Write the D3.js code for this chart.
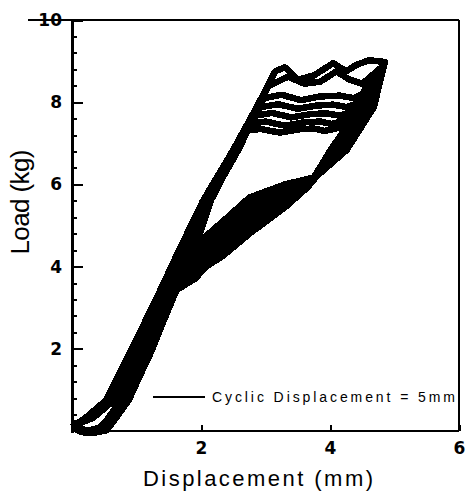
<!DOCTYPE html>
<html>
<head>
<meta charset="utf-8">
<script src="https://cdn.jsdelivr.net/npm/d3@7"></script>
<style>
  body { margin: 0; background: #fff; }
  svg { display: block; }
</style>
</head>
<body>
<div id="chart"></div>
<script>
const width = 468, height = 492;

// axis ticks
const xTicks = [2, 4, 6];
const yTicks = [2, 4, 6, 8, 10];

// load (kg) vs displacement (mm), one array per cycle
const cycle1 = [[0.00,0.10],[0.21,0.32],[0.53,0.75],[0.92,1.97],[1.37,3.43],[1.66,4.40],[2.03,5.60],[2.50,6.84],[2.87,7.90],[3.15,8.75],[3.30,8.85],[3.50,8.55],[3.75,8.65],[4.05,8.95],[4.25,8.75],[4.40,8.90],[4.60,9.02],[4.85,8.98],
  [4.68,7.88],[4.26,6.84],[3.78,6.18],[3.30,6.00],[2.75,5.68],[2.34,5.10],[2.06,4.72],[1.80,4.00],[1.50,3.43],[1.28,2.60],[1.12,1.97],[0.89,1.20],[0.76,0.75],[0.54,0.27],[0.42,0.08],[0.15,-0.03]];
const cycle2 = [[0.02,0.08],[0.23,0.32],[0.55,0.75],[0.94,1.97],[1.39,3.43],[1.70,4.40],[2.05,5.60],[2.52,6.84],[2.82,7.75],[3.05,8.40],[3.35,8.62],[3.60,8.45],[3.85,8.50],[4.10,8.75],[4.30,8.55],[4.50,8.45],[4.80,8.85],
  [4.64,7.88],[4.22,6.84],[3.76,6.14],[3.30,5.90],[2.75,5.53],[2.34,4.96],[2.06,4.60],[1.82,3.95],[1.52,3.43],[1.30,2.60],[1.14,1.97],[0.91,1.20],[0.78,0.75],[0.56,0.27],[0.44,0.08],[0.18,-0.03]];
const cycle3 = [[0.00,0.14],[0.25,0.32],[0.57,0.75],[0.96,1.97],[1.41,3.43],[1.74,4.40],[2.07,5.60],[2.54,6.84],[2.80,7.60],[2.98,8.10],[3.25,8.18],[3.55,8.05],[3.85,8.14],[4.15,8.16],[4.37,8.10],[4.50,8.20],[4.66,8.60],[4.78,8.80],
  [4.61,7.88],[4.18,6.84],[3.74,6.10],[3.30,5.80],[2.75,5.38],[2.34,4.82],[2.06,4.48],[1.84,3.90],[1.54,3.43],[1.32,2.60],[1.16,1.97],[0.93,1.20],[0.80,0.75],[0.58,0.27],[0.46,0.06],[0.20,-0.04]];
const cycle4 = [[0.03,0.10],[0.27,0.32],[0.59,0.75],[0.98,1.97],[1.43,3.43],[1.78,4.40],[2.09,5.60],[2.56,6.84],[2.76,7.45],[2.92,7.88],[3.20,7.95],[3.50,7.84],[3.80,7.92],[4.05,7.94],[4.26,7.88],[4.44,7.98],[4.62,8.45],[4.75,8.75],
  [4.57,7.88],[4.13,6.84],[3.72,6.06],[3.30,5.72],[2.75,5.24],[2.34,4.68],[2.06,4.35],[1.86,3.85],[1.56,3.43],[1.34,2.60],[1.18,1.97],[0.95,1.20],[0.82,0.75],[0.60,0.27],[0.48,0.05],[0.24,-0.04]];
const cycle5 = [[0.01,0.16],[0.29,0.32],[0.61,0.75],[1.00,1.97],[1.45,3.43],[1.82,4.40],[2.11,5.60],[2.58,6.84],[2.72,7.30],[2.84,7.67],[3.10,7.74],[3.40,7.63],[3.70,7.71],[3.95,7.73],[4.15,7.67],[4.36,7.78],[4.58,8.35],[4.72,8.70],
  [4.54,7.88],[4.09,6.84],[3.70,6.02],[3.30,5.63],[2.75,5.09],[2.34,4.54],[2.06,4.23],[1.88,3.80],[1.58,3.43],[1.36,2.60],[1.20,1.97],[0.97,1.20],[0.84,0.75],[0.62,0.27],[0.50,0.04],[0.27,-0.05]];
const cycle6 = [[0.04,0.12],[0.31,0.32],[0.63,0.75],[1.02,1.97],[1.47,3.43],[1.86,4.40],[2.13,5.60],[2.58,6.84],[2.68,7.20],[2.74,7.47],[3.00,7.53],[3.30,7.43],[3.60,7.51],[3.85,7.53],[4.03,7.47],[4.28,7.58],[4.54,8.25],[4.70,8.65],
  [4.50,7.88],[4.05,6.84],[3.68,5.98],[3.30,5.54],[2.75,4.95],[2.34,4.40],[2.06,4.10],[1.90,3.76],[1.60,3.43],[1.38,2.60],[1.22,1.97],[0.99,1.20],[0.86,0.75],[0.64,0.27],[0.52,0.03],[0.30,-0.05]];
const cycle7 = [[0.02,0.13],[0.33,0.32],[0.65,0.75],[1.04,1.97],[1.49,3.43],[1.90,4.40],[2.15,5.60],[2.56,6.84],[2.62,7.10],[2.67,7.30],[2.92,7.35],[3.22,7.26],[3.52,7.34],[3.75,7.36],[3.92,7.30],[4.20,7.40],[4.50,8.15],[4.68,8.60],
  [4.47,7.88],[4.01,6.84],[3.66,5.94],[3.30,5.44],[2.75,4.80],[2.34,4.26],[2.06,3.98],[1.92,3.72],[1.62,3.43],[1.40,2.60],[1.24,1.97],[1.01,1.20],[0.88,0.75],[0.66,0.27],[0.54,0.02],[0.32,-0.05]];
const cycles = [cycle1, cycle2, cycle3, cycle4, cycle5, cycle6, cycle7];

const legendLabel = "Cyclic Displacement = 5mm";

const x = d3.scaleLinear().domain([0, 6]).range([72, 459]);
const y = d3.scaleLinear().domain([0, 10]).range([431, 20]);

const svg = d3.select('#chart').append('svg')
              .attr('width', width)
              .attr('height', height)
              .attr('viewBox', [0, 0, width, height]);

// curves
const line = d3.line()
               .x(d => x(d[0]))
               .y(d => y(d[1]));

svg.append('g')
   .attr('fill', 'none')
   .attr('stroke', '#000')
   .attr('stroke-width', 6.5)
   .attr('stroke-linejoin', 'round')
   .attr('shape-rendering', 'crispEdges')
   .selectAll('path')
   .data(cycles)
   .join('path')
   .attr('d', d => line(d.concat([d[0]])));

// frame
const frame = svg.append('g').attr('stroke', '#000').attr('shape-rendering', 'crispEdges');
frame.append('line').attr('x1', 28).attr('x2', x(6)).attr('y1', y(10)).attr('y2', y(10)).attr('stroke-width', 2);
frame.append('line').attr('x1', x(6)).attr('x2', x(6)).attr('y1', y(10)).attr('y2', y(0)).attr('stroke-width', 2);
frame.append('line').attr('x1', x(0)).attr('x2', x(6)).attr('y1', y(0)).attr('y2', y(0)).attr('stroke-width', 2);
frame.append('line').attr('x1', x(0)).attr('x2', x(0)).attr('y1', y(10)).attr('y2', y(0) + 2).attr('stroke-width', 3);

const fmt = d3.format('d');

// y axis, ticks point inward
const yMinor = d3.range(0.4, 10, 0.4).filter(v => Math.abs(v / 2 - Math.round(v / 2)) > 0.01);
svg.append('g')
   .attr('transform', `translate(${x(0)},0)`)
   .call(d3.axisLeft(y).tickValues(yMinor).tickSize(-5).tickFormat(''))
   .call(g => g.select('.domain').remove())
   .call(g => g.selectAll('line').attr('stroke-width', 2).attr('shape-rendering', 'crispEdges'));

svg.append('g')
   .attr('transform', `translate(${x(0)},0)`)
   .call(d3.axisLeft(y).tickValues(yTicks).tickSize(-11).tickPadding(10).tickFormat(fmt))
   .call(g => g.select('.domain').remove())
   .call(g => g.selectAll('line').attr('stroke-width', 2).attr('shape-rendering', 'crispEdges'))
   .call(g => g.selectAll('text')
               .attr('font-family', 'DejaVu Sans')
               .attr('font-weight', 'bold')
               .attr('font-size', 17)
               .attr('fill', '#000'));

// x axis
svg.append('g')
   .attr('transform', `translate(0,${y(0)})`)
   .call(d3.axisBottom(x).tickValues(xTicks).tickSize(-6).tickPadding(11).tickFormat(fmt))
   .call(g => g.select('.domain').remove())
   .call(g => g.selectAll('line').attr('stroke-width', 2).attr('shape-rendering', 'crispEdges'))
   .call(g => g.selectAll('text')
               .attr('font-family', 'DejaVu Sans')
               .attr('font-weight', 'bold')
               .attr('font-size', 17)
               .attr('fill', '#000'));

// titles
svg.append('text')
   .attr('x', 258)
   .attr('y', 486)
   .attr('text-anchor', 'middle')
   .attr('font-family', 'Liberation Sans')
   .attr('font-size', 22)
   .attr('textLength', 230)
   .attr('lengthAdjust', 'spacing')
   .text('Displacement (mm)');

svg.append('text')
   .attr('transform', 'translate(29,202) rotate(-90)')
   .attr('text-anchor', 'middle')
   .attr('font-family', 'Liberation Sans')
   .attr('font-size', 26)
   .attr('textLength', 105)
   .attr('lengthAdjust', 'spacing')
   .text('Load (kg)');

// legend
const legend = svg.append('g');
legend.append('line')
      .attr('x1', 153).attr('x2', 205)
      .attr('y1', 397).attr('y2', 397)
      .attr('stroke', '#000').attr('stroke-width', 2)
      .attr('shape-rendering', 'crispEdges');
legend.append('text')
      .attr('x', 212)
      .attr('y', 402)
      .attr('font-family', 'Liberation Sans')
      .attr('font-size', 14)
      .attr('textLength', 243)
      .attr('lengthAdjust', 'spacing')
      .text(legendLabel);
</script>
</body>
</html>
